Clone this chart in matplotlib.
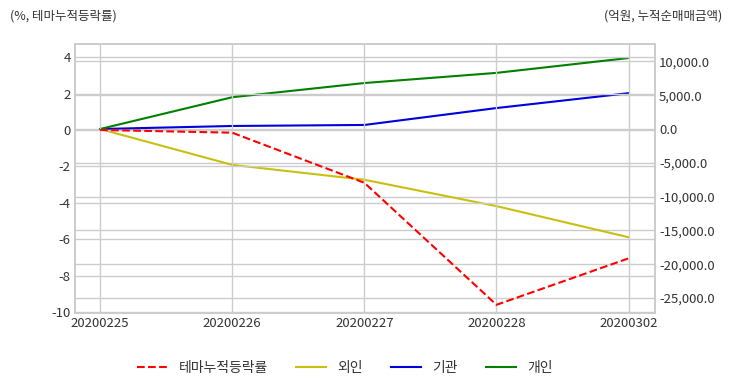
import matplotlib
matplotlib.use('Agg')
import matplotlib.pyplot as plt

plt.rcParams['font.family'] = ['Noto Sans CJK KR', 'DejaVu Sans']
plt.rcParams['axes.unicode_minus'] = False

dates = ['20200225', '20200226', '20200227', '20200228', '20200302']
theme_rate = [0.0, -0.15, -2.9, -9.6, -7.05]          # %
foreign = [0.0, -5300.0, -7500.0, -11400.0, -16000.0]  # 억원
institution = [0.0, 450.0, 600.0, 3100.0, 5300.0]
individual = [0.0, 4700.0, 6800.0, 8300.0, 10500.0]

grid_c = '#cccccc'
text_c = '#333333'

fig = plt.figure(figsize=(7.32, 3.92), dpi=100)
ax = fig.add_axes([75 / 732, 1 - 313 / 392, 580 / 732, 269 / 392])
ax2 = ax.twinx()

x = range(len(dates))
l1, = ax.plot(x, theme_rate, color='red', linestyle='--', linewidth=1.5, label='테마누적등락률')
l2, = ax2.plot(x, foreign, color='#c8c010', linewidth=1.5, label='외인')
l3, = ax2.plot(x, institution, color='#0000dd', linewidth=1.5, label='기관')
l4, = ax2.plot(x, individual, color='green', linewidth=1.5, label='개인')

ax.set_xlim(-0.19, 4.2)
ax.set_ylim(-10.05, 4.72)
ax.set_yticks([4, 2, 0, -2, -4, -6, -8, -10])
ax2.set_ylim(-27200, 12570)
ax2.set_yticks([10000, 5000, 0, -5000, -10000, -15000, -20000, -25000])
ax2.set_yticklabels([f'{v:,.1f}' for v in ax2.get_yticks()])
ax.set_xticks(list(x))
ax.set_xticklabels(dates)

for a in (ax, ax2):
    a.grid(True, color=grid_c, linewidth=1)
    a.set_axisbelow(True)
    a.tick_params(length=0, labelsize=9.5, colors=text_c, pad=3)
    for s in a.spines.values():
        s.set_color(grid_c)
        s.set_linewidth(1.2)
ax2.grid(axis='x', visible=False)
ax.set_zorder(ax2.get_zorder() + 1)
ax.patch.set_visible(False)

fig.text(10 / 732, 1 - 16 / 392, '(%, 테마누적등락률)', fontsize=9, color=text_c, va='center')
fig.text(722 / 732, 1 - 16 / 392, '(억원, 누적순매매금액)', fontsize=9, color=text_c,
         va='center', ha='right')

fig.legend(handles=[l1, l2, l3, l4], loc='center', bbox_to_anchor=(345 / 732, 1 - 368 / 392),
           ncol=4, frameon=False, fontsize=10, handlelength=2.2, columnspacing=2.0,
           labelcolor=text_c)

fig.savefig('out.png', dpi=100)
